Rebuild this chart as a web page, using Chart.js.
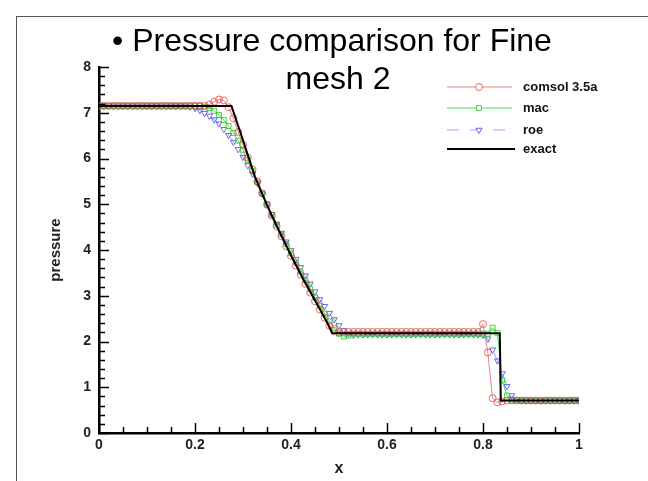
<!DOCTYPE html>
<html>
<head>
<meta charset="utf-8">
<script src="https://cdn.jsdelivr.net/npm/chart.js@4.4.0/dist/chart.umd.min.js"></script>
<style>
  html, body { margin: 0; padding: 0; background: #fff; }
  #wrap { position: relative; width: 648px; height: 481px; overflow: hidden; }
  #frame { position: absolute; left: 16px; top: 16px; right: -2px; bottom: -2px;
           border-left: 1px solid #555; border-top: 1px solid #555; }
  canvas { position: absolute; left: 0; top: 0; }
</style>
</head>
<body>
<div id="wrap">
  <div id="frame"></div>
  <canvas id="chart-pressure" width="648" height="481"></canvas>
</div>
<script>
// Pressure comparison for fine mesh 2 - shock tube profiles

const titleLines = ['\u2022 Pressure comparison for Fine', 'mesh 2'];
const seriesNames = ['comsol 3.5a', 'mac', 'roe', 'exact'];

// sample positions of the numerical solutions
const xGrid = [
  0.00, 0.01, 0.02, 0.03, 0.04, 0.05, 0.06, 0.07, 0.08, 0.09,
  0.10, 0.11, 0.12, 0.13, 0.14, 0.15, 0.16, 0.17, 0.18, 0.19,
  0.20, 0.21, 0.22, 0.23, 0.24, 0.25, 0.26, 0.27, 0.28, 0.29,
  0.30, 0.31, 0.32, 0.33, 0.34, 0.35, 0.36, 0.37, 0.38, 0.39,
  0.40, 0.41, 0.42, 0.43, 0.44, 0.45, 0.46, 0.47, 0.48, 0.49,
  0.50, 0.51, 0.52, 0.53, 0.54, 0.55, 0.56, 0.57, 0.58, 0.59,
  0.60, 0.61, 0.62, 0.63, 0.64, 0.65, 0.66, 0.67, 0.68, 0.69,
  0.70, 0.71, 0.72, 0.73, 0.74, 0.75, 0.76, 0.77, 0.78, 0.79,
  0.80, 0.81, 0.82, 0.83, 0.84, 0.85, 0.86, 0.87, 0.88, 0.89,
  0.90, 0.91, 0.92, 0.93, 0.94, 0.95, 0.96, 0.97, 0.98, 0.99,
  1.00
];

const comsolP = [
  7.15, 7.15, 7.15, 7.15, 7.15, 7.15, 7.15, 7.15, 7.15, 7.15,
  7.15, 7.15, 7.15, 7.15, 7.15, 7.15, 7.15, 7.15, 7.15, 7.15,
  7.15, 7.15, 7.15, 7.18, 7.24, 7.29, 7.27, 7.12, 6.88, 6.58,
  6.30, 6.02, 5.76, 5.50, 5.24, 4.99, 4.75, 4.52, 4.30, 4.08,
  3.87, 3.66, 3.46, 3.26, 3.07, 2.88, 2.70, 2.52, 2.35, 2.23,
  2.20, 2.21, 2.21, 2.21, 2.21, 2.21, 2.21, 2.21, 2.21, 2.21,
  2.21, 2.21, 2.21, 2.21, 2.21, 2.21, 2.21, 2.21, 2.21, 2.21,
  2.21, 2.21, 2.21, 2.21, 2.21, 2.21, 2.21, 2.21, 2.21, 2.21,
  2.38, 1.76, 0.76, 0.67, 0.69, 0.71, 0.71, 0.71, 0.71, 0.71,
  0.71, 0.71, 0.71, 0.71, 0.71, 0.71, 0.71, 0.71, 0.71, 0.71,
  0.71
];

const macP = [
  7.15, 7.15, 7.15, 7.15, 7.15, 7.15, 7.15, 7.15, 7.15, 7.15,
  7.15, 7.15, 7.15, 7.15, 7.15, 7.15, 7.15, 7.15, 7.15, 7.15,
  7.15, 7.15, 7.13, 7.10, 7.04, 6.95, 6.84, 6.71, 6.56, 6.39,
  6.19, 5.96, 5.72, 5.48, 5.23, 4.99, 4.77, 4.55, 4.34, 4.13,
  3.93, 3.73, 3.53, 3.34, 3.15, 2.96, 2.78, 2.61, 2.44, 2.29,
  2.17, 2.11, 2.13, 2.17, 2.17, 2.17, 2.17, 2.17, 2.17, 2.17,
  2.17, 2.17, 2.17, 2.17, 2.17, 2.17, 2.17, 2.17, 2.17, 2.17,
  2.17, 2.17, 2.17, 2.17, 2.17, 2.17, 2.17, 2.17, 2.17, 2.17,
  2.17, 2.17, 2.30, 2.19, 1.15, 0.82, 0.72, 0.71, 0.71, 0.71,
  0.71, 0.71, 0.71, 0.71, 0.71, 0.71, 0.71, 0.71, 0.71, 0.71,
  0.71
];

const roeP = [
  7.15, 7.15, 7.15, 7.15, 7.15, 7.15, 7.15, 7.15, 7.15, 7.15,
  7.15, 7.15, 7.15, 7.15, 7.15, 7.15, 7.15, 7.15, 7.15, 7.13,
  7.10, 7.05, 6.99, 6.93, 6.85, 6.76, 6.64, 6.51, 6.36, 6.20,
  6.03, 5.85, 5.66, 5.46, 5.23, 5.00, 4.78, 4.57, 4.37, 4.18,
  3.99, 3.80, 3.62, 3.44, 3.26, 3.09, 2.92, 2.77, 2.62, 2.48,
  2.35, 2.24, 2.17, 2.14, 2.15, 2.15, 2.15, 2.15, 2.15, 2.15,
  2.15, 2.15, 2.15, 2.15, 2.15, 2.15, 2.15, 2.15, 2.15, 2.15,
  2.15, 2.15, 2.15, 2.15, 2.15, 2.15, 2.15, 2.15, 2.15, 2.15,
  2.14, 2.06, 1.82, 1.58, 1.30, 1.02, 0.82, 0.73, 0.71, 0.71,
  0.71, 0.71, 0.71, 0.71, 0.71, 0.71, 0.71, 0.71, 0.71, 0.71,
  0.71
];

// exact solution breakpoints
const exactX = [0, 0.276, 0.30, 0.325, 0.35, 0.375, 0.40, 0.425, 0.45, 0.475, 0.486, 0.835, 0.837, 1];
const exactP = [7.15, 7.15, 6.40, 5.60, 4.98, 4.42, 3.88, 3.37, 2.90, 2.42, 2.18, 2.18, 0.71, 0.71];

const xTicks = [0, 0.2, 0.4, 0.6, 0.8, 1];
const yTicks = [0, 1, 2, 3, 4, 5, 6, 7, 8];

const fontFace = "'Liberation Sans', Arial, Helvetica, sans-serif";

const toPoints = (xs, ys) => xs.map((x, i) => ({ x: x, y: ys[i] }));

const styles = [
  { line: 'rgba(235, 100, 100, 0.8)', mark: 'rgba(228, 60, 60, 0.75)', shape: 'circle', dash: [] },
  { line: 'rgba(60, 220, 60, 0.9)', mark: 'rgba(30, 200, 30, 0.8)', shape: 'rect', dash: [] },
  { line: 'rgba(150, 150, 250, 0.9)', mark: 'rgba(70, 70, 220, 0.8)', shape: 'triangle', dash: [12, 11] },
  { line: '#000', mark: '#000', shape: false, dash: [] }
];

// inward ticks, Tecplot style
const inwardTicks = {
  id: 'inwardTicks',
  afterDatasetsDraw(chart) {
    const { ctx, chartArea, scales } = chart;
    ctx.save();
    ctx.strokeStyle = '#000';
    ctx.lineWidth = 1.5;
    ctx.beginPath();
    for (let k = 0; k <= 40; k++) {
      const py = Math.round(scales.y.getPixelForValue(k / 5)) + 0.5;
      const len = k % 5 === 0 ? 10 : 6;
      ctx.moveTo(chartArea.left, py);
      ctx.lineTo(chartArea.left + len, py);
    }
    for (let k = 0; k <= 20; k++) {
      const px = Math.round(scales.x.getPixelForValue(k / 20)) + 0.5;
      const len = k % 4 === 0 ? 10 : 6;
      ctx.moveTo(px, chartArea.bottom);
      ctx.lineTo(px, chartArea.bottom - len);
    }
    ctx.stroke();
    ctx.restore();
  }
};

// title and legend drawn over the plot, as in the slide
const overlay = {
  id: 'overlay',
  afterDraw(chart) {
    const ctx = chart.ctx;
    ctx.save();
    ctx.fillStyle = '#000';
    ctx.font = '32px ' + fontFace;
    ctx.textAlign = 'center';
    ctx.textBaseline = 'alphabetic';
    ctx.fillText(titleLines[0], 332, 51);
    ctx.fillText(titleLines[1], 338, 89);

    const rows = [87, 108, 130, 149];
    ctx.font = 'bold 13px ' + fontFace;
    ctx.textAlign = 'left';
    ctx.textBaseline = 'middle';
    seriesNames.forEach((name, i) => {
      const st = styles[i];
      const y = rows[i];
      ctx.strokeStyle = st.line;
      ctx.lineWidth = i === 3 ? 2 : 1.2;
      ctx.setLineDash(st.dash);
      ctx.beginPath();
      ctx.moveTo(447, y);
      ctx.lineTo(i === 3 ? 515 : 512, y);
      ctx.stroke();
      ctx.setLineDash([]);
      if (st.shape) {
        ctx.fillStyle = '#fff';
        ctx.strokeStyle = st.mark;
        ctx.lineWidth = 1;
        Chart.helpers.drawPoint(ctx, {
          pointStyle: st.shape, radius: 3.5, borderWidth: 1,
          rotation: st.shape === 'triangle' ? 180 : 0
        }, 479, y);
      }
      ctx.fillStyle = '#111';
      ctx.fillText(name, 523, y);
    });
    ctx.restore();
  }
};

function initPressureChart() {
  const canvas = document.getElementById('chart-pressure');
  const ctx = canvas.getContext('2d');

  const numeric = [comsolP, macP, roeP].map((ys, i) => ({
    label: seriesNames[i],
    data: toPoints(xGrid, ys),
    borderColor: styles[i].line,
    borderWidth: 1,
    borderDash: styles[i].dash,
    pointStyle: styles[i].shape,
    pointRotation: styles[i].shape === 'triangle' ? 180 : 0,
    pointRadius: 3.5,
    pointBorderWidth: 1,
    pointBorderColor: styles[i].mark,
    pointBackgroundColor: 'rgba(0,0,0,0)',
    tension: 0,
    order: i + 1
  }));

  new Chart(ctx, {
    type: 'line',
    data: {
      datasets: [
        ...numeric,
        {
          label: seriesNames[3],
          data: toPoints(exactX, exactP),
          borderColor: '#000',
          borderWidth: 2,
          pointRadius: 0,
          tension: 0,
          order: 0
        }
      ]
    },
    options: {
      responsive: false,
      animation: false,
      layout: { padding: { left: 47, right: 69, top: 67, bottom: 3 } },
      plugins: {
        legend: { display: false },
        title: { display: false },
        tooltip: { enabled: false }
      },
      scales: {
        x: {
          type: 'linear',
          min: 0,
          max: 1,
          afterFit: (s) => { s.height = 45; },
          afterBuildTicks: (s) => { s.ticks = xTicks.map(v => ({ value: v })); },
          grid: { display: false, drawTicks: false },
          border: { display: true, color: '#000', width: 2.5 },
          ticks: {
            color: '#222',
            padding: 4,
            maxRotation: 0,
            font: { family: fontFace, size: 14, weight: 'bold' },
            callback: (v) => String(v)
          },
          title: {
            display: true,
            text: 'x',
            color: '#222',
            padding: 0,
            font: { family: fontFace, size: 16, weight: 'bold' }
          }
        },
        y: {
          min: 0,
          max: 8,
          afterFit: (s) => { s.width = 52; },
          afterBuildTicks: (s) => { s.ticks = yTicks.map(v => ({ value: v })); },
          grid: { display: false, drawTicks: false },
          border: { display: true, color: '#000', width: 2.5 },
          ticks: {
            color: '#222',
            padding: 8,
            font: { family: fontFace, size: 14, weight: 'bold' }
          },
          title: {
            display: true,
            text: 'pressure',
            color: '#222',
            padding: 0,
            font: { family: fontFace, size: 15, weight: 'bold' }
          }
        }
      }
    },
    plugins: [inwardTicks, overlay]
  });
}

window.addEventListener('DOMContentLoaded', () => {
  initPressureChart();
});
</script>
</body>
</html>
